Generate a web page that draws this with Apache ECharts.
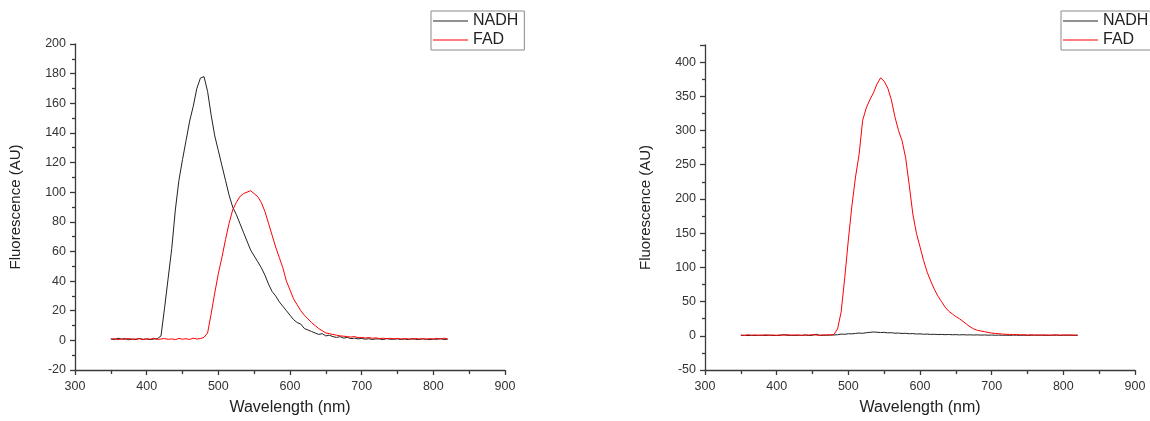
<!DOCTYPE html>
<html>
<head>
<meta charset="utf-8">
<script src="https://cdn.jsdelivr.net/npm/echarts@6/dist/echarts.min.js"></script>
<style>
  html, body { margin: 0; padding: 0; background: #fff; }
  #main { width: 1150px; height: 421px; }
</style>
</head>
<body>
<div id="main"></div>
<script>
// wavelength (nm), 5 nm steps
var wavelengths = [350, 355, 360, 365, 370, 375, 380, 385, 390, 395, 400, 405, 410, 415,
  420, 425, 430, 435, 440, 445, 450, 455, 460, 465, 470, 475, 480,
  485, 490, 495, 500, 505, 510, 515, 520, 525, 530, 535, 540, 545, 550, 555, 560, 565, 570, 575, 580,
  585, 590, 595, 600, 605, 610, 615, 620, 625, 630, 635, 640, 645, 650, 655, 660, 665, 670, 675, 680,
  685, 690, 695, 700, 705, 710, 715, 720, 725, 730, 735, 740, 745, 750, 755, 760, 765, 770, 775, 780,
  785, 790, 795, 800, 805, 810, 815, 820];

// left panel
var nadhLeft = [1, 0.5, 1.5, 0.8, 1.2, 0.4, 1, 0.6, 1.3, 0.7, 1, 0.5, 0.9, 1.2,
  3, 22, 42, 62, 88, 108, 122, 135, 148, 158, 170, 177, 178,
  168, 152, 138, 128, 118, 108, 98, 90, 85, 79, 73, 67, 61, 57, 53, 49, 44, 38, 33, 30,
  26, 23, 20, 17, 14, 12, 11, 8, 7, 6, 5, 4, 4.5, 3, 3.5, 2.5, 2, 2.5, 1.5, 2,
  1.2, 1.5, 1, 1.3, 0.8, 1.1, 0.6, 1, 0.9, 0.5, 1.2, 0.7, 0.8, 1, 0.6, 0.9, 0.5, 1.1, 0.7, 0.6,
  1, 0.8, 0.5, 0.9, 0.7, 1.2, 0.6, 0.8];
var fadLeft = [0.8, 1.2, 0.5, 1, 0.7, 1.3, 0.6, 0.9, 1.1, 0.5, 1, 0.8, 1.4, 0.6,
  0.9, 1.2, 0.7, 1, 0.5, 1.3, 0.8, 1.1, 0.6, 1.5, 0.9, 1.2, 2,
  5, 18, 32, 45, 56, 68, 79, 88, 93, 97, 99, 100, 101, 99, 97, 93, 87, 79, 71, 63,
  56, 49, 40, 34, 28, 24, 20, 17, 14.5, 12, 10, 8, 6.5, 5, 4.5, 4, 3.5, 3, 2.8, 2.5,
  2.2, 2.6, 1.8, 2, 1.6, 1.9, 1.4, 1.7, 1.2, 1.5, 1.1, 1.4, 1, 1.3, 0.9, 1.2, 1, 0.8, 1.3, 0.9,
  1.1, 0.8, 1.2, 0.9, 1.4, 0.8, 1.5, 1];

// right panel
var nadhRight = [0.5, 0.8, 0.3, 0.7, 0.4, 0.9, 0.6, 0.5, 1, 0.4, 0.7, 0.6, 1.8, 0.5,
  0.8, 0.4, 0.9, 0.6, 1, 0.5, 0.7, 2.2, 0.8, 0.6, 1, 0.9, 1.2,
  1.5, 2.5, 2.2, 3, 2.8, 3.5, 4, 3.6, 4.5, 5, 5.5, 5.2, 4.8, 5, 4.3, 4.5, 3.8, 4, 3.4, 3.6,
  3, 3.2, 2.6, 2.8, 2.3, 2.5, 2, 2.2, 1.8, 2, 1.6, 1.9, 1.5, 1.7, 1.3, 1.6, 1.2, 1.4, 1.1, 1.3,
  1, 1.2, 0.9, 1.1, 0.8, 1, 0.7, 0.9, 0.6, 1, 0.8, 0.7, 0.9, 0.6, 0.8, 1, 0.7, 0.9, 0.6, 0.8,
  0.7, 1, 0.6, 0.8, 0.9, 0.7, 0.8, 0.6];
var fadRight = [1, 0.5, 1.5, 0.8, 1.2, 0.6, 1, 1.4, 0.7, 1.1, 0.5, 1.3, 0.9, 1.6,
  0.8, 1.2, 1, 0.6, 1.4, 0.9, 1.8, 1.1, 0.7, 1.3, 1, 1.5, 2,
  10, 35, 85, 140, 190, 232, 265, 315, 333, 345, 355, 368, 377, 372, 362, 345, 320, 300, 285, 260,
  220, 178, 150, 130, 110, 93, 80, 68, 58, 50, 42, 36, 32, 28, 25, 21, 17, 13, 10, 8,
  7, 6, 5, 4, 3.5, 3, 2.5, 2.2, 2, 1.6, 1.9, 1.3, 1.5, 1.1, 1.4, 0.9, 1.2, 1, 1.3, 0.8,
  1.1, 1.4, 0.9, 1.2, 1, 1.3, 0.8, 1.1];

var xTicks = [300, 400, 500, 600, 700, 800, 900];

function pairs(vals) {
  return wavelengths.map(function (w, i) { return [w, vals[i]]; });
}

var FONT = "'Liberation Sans', Arial, sans-serif";
var axisLineStyle = { color: '#3a3a3a', width: 1.3 };

function xAxisFor(idx) {
  return {
    type: 'value',
    gridIndex: idx,
    min: xTicks[0],
    max: xTicks[xTicks.length - 1],
    interval: 100,
    name: 'Wavelength (nm)',
    nameLocation: 'middle',
    nameGap: 30,
    nameTextStyle: { fontFamily: FONT, fontSize: 16, color: '#222' },
    axisLine: { onZero: false, lineStyle: axisLineStyle },
    axisTick: { length: 5, lineStyle: axisLineStyle },
    minorTick: { show: true, splitNumber: 2, length: 4, lineStyle: axisLineStyle },
    axisLabel: { fontFamily: FONT, fontSize: 12.5, color: '#333', margin: 10 },
    splitLine: { show: false }
  };
}

function yAxisFor(idx, min, max, step) {
  return {
    type: 'value',
    gridIndex: idx,
    min: min,
    max: max,
    interval: step,
    name: 'Fluorescence (AU)',
    nameLocation: 'middle',
    nameGap: 52,
    nameTextStyle: { fontFamily: FONT, fontSize: 15, color: '#222' },
    axisLine: { show: true, onZero: false, lineStyle: axisLineStyle },
    axisTick: { show: true, length: 5, lineStyle: axisLineStyle },
    minorTick: { show: true, splitNumber: 2, length: 3, lineStyle: axisLineStyle },
    axisLabel: { fontFamily: FONT, fontSize: 12.5, color: '#333', margin: 9, showMaxLabel: max % step === 0 },
    splitLine: { show: false }
  };
}

function lineSeries(name, idx, vals, color) {
  return {
    name: name,
    type: 'line',
    xAxisIndex: idx,
    yAxisIndex: idx,
    data: pairs(vals),
    symbol: 'none',
    lineStyle: { color: color, width: 1 },
    itemStyle: { color: color },
    animation: false
  };
}

// legend keys are plain thin strokes, like the original
function legendAt(left) {
  return {
    left: left,
    top: 11,
    orient: 'vertical',
    data: ['NADH', 'FAD'],
    icon: 'rect',
    itemWidth: 35,
    itemHeight: 1,
    itemGap: 3,
    itemTextGap: 4,
    padding: [2, 6, 2, 2],
    borderColor: '#8a8a8a',
    borderWidth: 1,
    textStyle: { fontFamily: FONT, fontSize: 16, color: '#222' }
  };
}

var chart = echarts.init(document.getElementById('main'));
chart.setOption({
  backgroundColor: '#fff',
  animation: false,
  legend: [legendAt(431), legendAt(1061)],
  grid: [
    { left: 75, top: 44, width: 430, height: 327 },
    { left: 705, top: 45, width: 430, height: 325 }
  ],
  xAxis: [xAxisFor(0), xAxisFor(1)],
  yAxis: [yAxisFor(0, -20, 200, 20), yAxisFor(1, -50, 425, 50)],
  series: [
    lineSeries('NADH', 0, nadhLeft, '#222'),
    lineSeries('FAD', 0, fadLeft, '#ff0000'),
    lineSeries('NADH', 1, nadhRight, '#222'),
    lineSeries('FAD', 1, fadRight, '#ff0000')
  ]
});
</script>
</body>
</html>
